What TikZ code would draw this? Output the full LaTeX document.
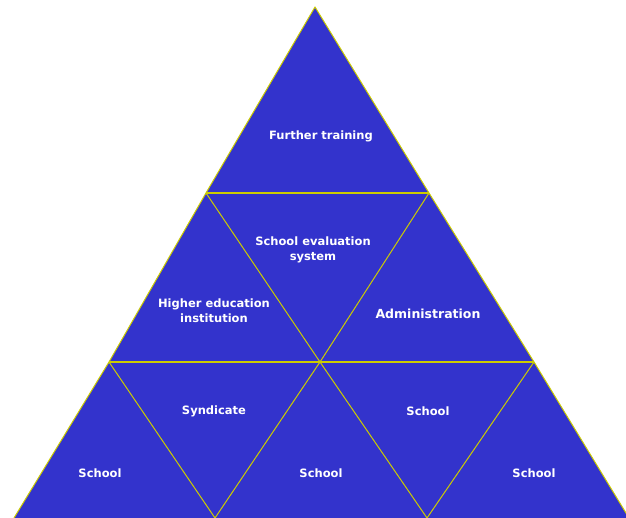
\documentclass[tikz,border=0pt]{standalone}
\usepackage{fontspec}
\setmainfont{DejaVu Sans}
\usepackage{xcolor}
\usepackage{tikz}

\definecolor{pyrblue}{RGB}{51,51,204}
\definecolor{pyrline}{RGB}{204,204,0}

\begin{document}
\begin{tikzpicture}[
                x=1pt, y=-1pt,
                edgeline/.style={draw=pyrline, line width=1pt, line join=round},
                rowline/.style={draw=pyrline, line width=2pt},
                fieldtext/.style={text=white, align=center, inner sep=0pt,
                    font=\bfseries\fontsize{11.5}{15}\selectfont},
                bigtext/.style={text=white, align=center, inner sep=0pt,
                    font=\bfseries\fontsize{12.5}{16}\selectfont}
            ]
                \useasboundingbox (0,0) rectangle (626,518);
                \clip (0,0) rectangle (626,518);

                % Corner points
                \coordinate (T) at (315,7);
                \coordinate (L1) at (206,193);
                \coordinate (R1) at (429,193);
                \coordinate (L2) at (109,362);
                \coordinate (M2) at (320,362);
                \coordinate (R2) at (534,362);
                \coordinate (L3) at (14,518);
                \coordinate (A3) at (215,518);
                \coordinate (B3) at (427,518);
                \coordinate (R3) at (629,518);

                % Pyramid
                \fill[pyrblue] (T) -- (L1) -- (L2) -- (L3) -- (R3) -- (R2) -- (R1) -- cycle;
                \draw[edgeline] (L3) -- (L2) -- (L1) -- (T) -- (R1) -- (R2) -- (R3);

                % Rows
                \draw[rowline] (L1) -- (R1);
                \draw[rowline] (L2) -- (R2);

                % Inner edges
                \draw[edgeline] (L1) -- (M2) -- (R1);
                \draw[edgeline] (L2) -- (A3) -- (M2) -- (B3) -- (R2);

                % Labels
                \node[fieldtext] (training) at (321,136) {Further training};
                \node[fieldtext] (evaluation) at (313,249.5) {School evaluation\\system};
                \node[fieldtext] (university) at (214,311) {Higher education\\institution};
                \node[bigtext] (admin) at (428,314) {Administration};
                \node[fieldtext] (syndicate) at (214,411) {Syndicate};
                \node[fieldtext] (schoolA) at (428,411) {School};
                \node[fieldtext] (schoolB) at (100,473) {School};
                \node[fieldtext] (schoolC) at (321,473) {School};
                \node[fieldtext] (schoolD) at (534,473) {School};
            \end{tikzpicture}
\end{document}
